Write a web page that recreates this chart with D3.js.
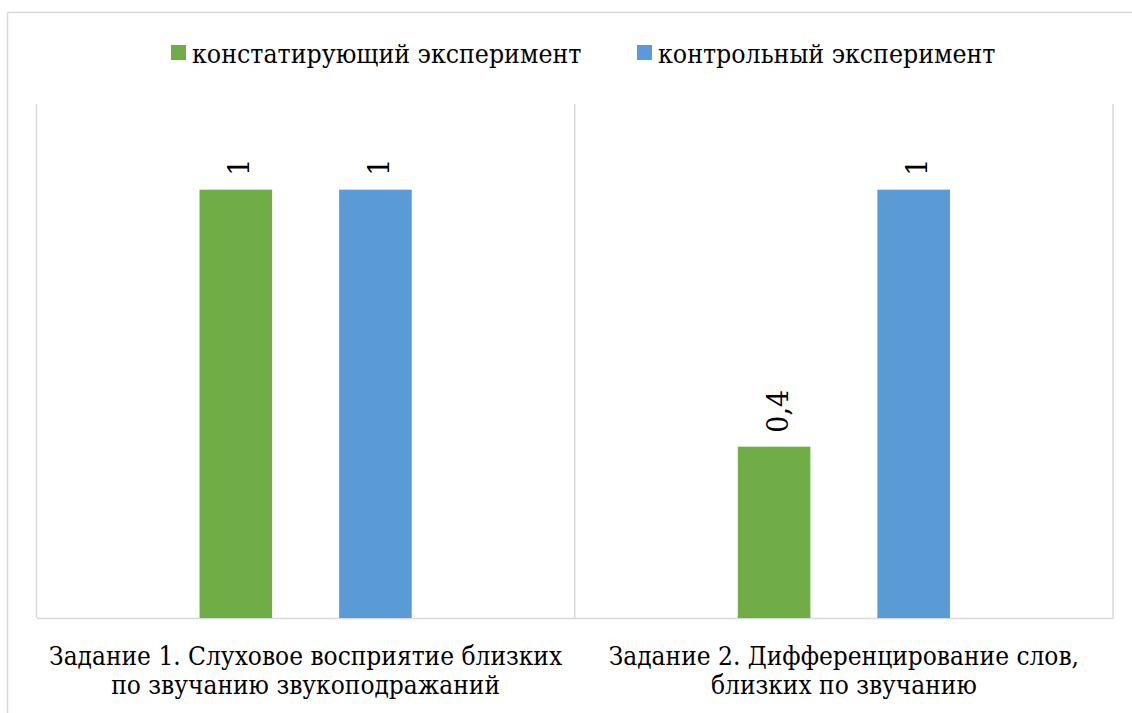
<!DOCTYPE html>
<html>
<head>
<meta charset="utf-8">
<script src="https://cdn.jsdelivr.net/npm/d3@7/dist/d3.min.js"></script>
<style>
  html, body { margin: 0; padding: 0; background: #fff; }
  svg { display: block; }
  text { font-family: "DejaVu Serif Condensed", "DejaVu Serif", "Liberation Serif", serif; fill: #000; }
</style>
</head>
<body>
<svg id="chart" width="1132" height="713"></svg>
<script>
// Task categories (two-line labels under the axis)
const categories = [
  ["Задание 1. Слуховое восприятие близких", "по звучанию звукоподражаний"],
  ["Задание 2. Дифференцирование слов,", "близких по звучанию"]
];
const seriesNames = ["констатирующий эксперимент", "контрольный эксперимент"];
const seriesColors = ["#70AD47", "#5B9BD5"];
// values per series, one per category
const constatingValues = [1, 0.4];
const controlValues = [1, 1];
const valueLabels = [["1", "0,4"], ["1", "1"]];

const W = 1132, H = 713;
const margin = { left: 36.5, right: W - 1113, top: 104, bottom: H - 618 };
const svg = d3.select("#chart");

// outer chart frame
svg.append("rect")
  .attr("x", 7.5).attr("y", 12.5)
  .attr("width", W + 10).attr("height", H + 10)
  .attr("fill", "none").attr("stroke", "#D9D9D9").attr("stroke-width", 1.5);

const catKeys = categories.map((_, i) => i);
const x0 = d3.scaleBand().domain(catKeys)
  .range([margin.left, W - margin.right]).paddingInner(0).paddingOuter(0);
const x1 = d3.scaleBand().domain([0, 1])
  .range([0, x0.bandwidth()]).paddingInner(0.48).paddingOuter(1.168);
const y = d3.scaleLinear().domain([0, 1.2]).range([H - margin.bottom, margin.top]);

const series = [constatingValues, controlValues];

// vertical category separators
const sepX = [x0.range()[0], ...catKeys.map(k => x0(k) + x0.bandwidth())];
svg.append("g").selectAll("line").data(sepX).join("line")
  .attr("x1", d => d).attr("x2", d => d)
  .attr("y1", y(1.2)).attr("y2", y(0))
  .attr("stroke", "#D9D9D9").attr("stroke-width", 1.5);

// category axis along the baseline
const xAxis = svg.append("g")
  .attr("transform", `translate(0,${y(0)})`)
  .call(d3.axisBottom(x0).tickSize(0).tickFormat(""));
xAxis.select(".domain").attr("stroke", "#D9D9D9").attr("stroke-width", 1.5);

// bars
const groups = svg.append("g").selectAll("g").data(series).join("g")
  .attr("fill", (d, i) => seriesColors[i]);
groups.each(function(vals, si) {
  d3.select(this).selectAll("rect").data(vals).join("rect")
    .attr("x", (d, ci) => x0(ci) + x1(si))
    .attr("y", d => y(d))
    .attr("width", x1.bandwidth())
    .attr("height", d => y(0) - y(d));
});

// rotated value labels above bars
series.forEach((vals, si) => {
  vals.forEach((v, ci) => {
    const cx = x0(ci) + x1(si) + x1.bandwidth() / 2;
    svg.append("text")
      .attr("transform", `translate(${cx},${y(v) - 14}) rotate(-90)`)
      .attr("dy", "0.45em")
      .attr("font-size", 30)
      .attr("font-family", "Liberation Serif, serif")
      .text(valueLabels[si][ci]);
  });
});

// category labels
catKeys.forEach(k => {
  const cx = x0(k) + x0.bandwidth() / 2;
  const t = svg.append("text")
    .attr("text-anchor", "middle")
    .attr("font-size", 26);
  categories[k].forEach((line, li) => {
    t.append("tspan").attr("x", cx).attr("y", 665 + li * 29).text(line);
  });
});

// legend
const legendItems = [
  { x: 171, name: seriesNames[0], color: seriesColors[0] },
  { x: 637, name: seriesNames[1], color: seriesColors[1] }
];
const legend = svg.append("g").selectAll("g").data(legendItems).join("g")
  .attr("transform", d => `translate(${d.x},45)`);
legend.append("rect").attr("width", 15).attr("height", 15).attr("fill", d => d.color);
legend.append("text").attr("x", 21).attr("y", 18).attr("font-size", 26.4).text(d => d.name);
</script>
</body>
</html>
